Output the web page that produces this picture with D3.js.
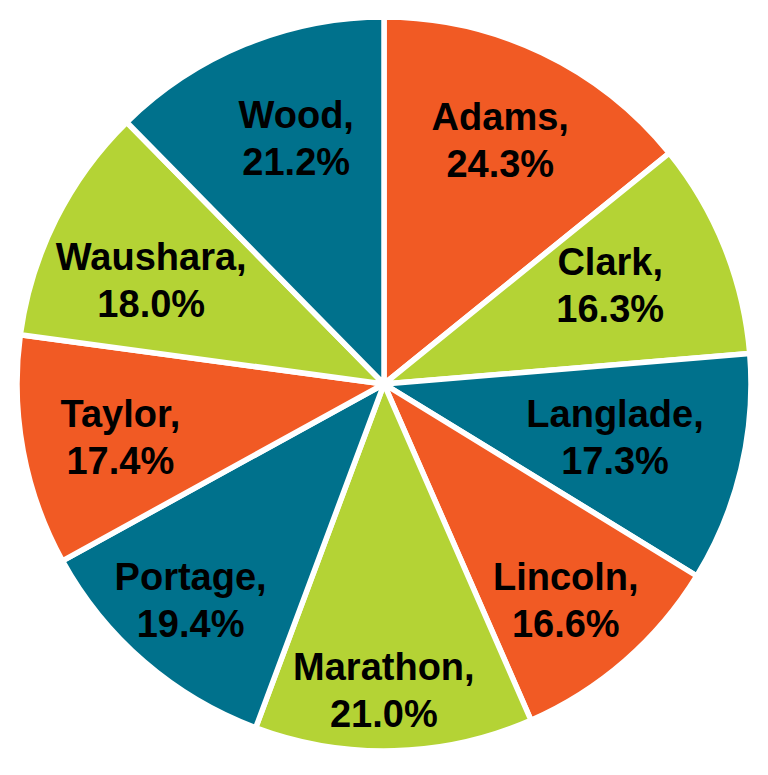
<!DOCTYPE html>
<html>
<head>
<meta charset="utf-8">
<script src="https://cdn.jsdelivr.net/npm/d3@7"></script>
<style>
  html, body { margin: 0; padding: 0; background: #fff; }
  svg { display: block; }
  text { font-family: "Liberation Sans", Arial, sans-serif; font-weight: bold; }
</style>
</head>
<body>
<svg id="chart" width="768" height="775"></svg>
<script>
// Data
const counties = ["Adams", "Clark", "Langlade", "Lincoln", "Marathon", "Portage", "Taylor", "Waushara", "Wood"];
const percents = [24.3, 16.3, 17.3, 16.6, 21.0, 19.4, 17.4, 18.0, 21.2];
const colorKeys = ["orange", "green", "teal", "orange", "green", "teal", "orange", "green", "teal"];

// Styling / layout config
const palette = { orange: "#F15A24", green: "#B4D335", teal: "#00718C" };
const labelRadius = [270, 247, 237, 282, 306, 290, 269, 255, 261];
const labelAngleNudgeDeg = [0, -1.8, -0.5, 0.9, 1.6, 1.0, -0.9, -2.5, 2.6];

const W = 768, H = 775;
const cx = 384, cy = 384, R = 367;
const fontSize = 38;
const lineGap = 47;
const firstBaseline = -10;

const svg = d3.select("#chart");
const g = svg.append("g").attr("transform", `translate(${cx},${cy})`);

const data = counties.map((c, i) => ({ name: c, value: percents[i], color: palette[colorKeys[i]], i }));

const pie = d3.pie().value(d => d.value).sort(null);
const arcs = pie(data);
const arc = d3.arc().innerRadius(0).outerRadius(R);

g.selectAll("path.slice")
  .data(arcs)
  .join("path")
  .attr("class", "slice")
  .attr("d", arc)
  .attr("fill", d => d.data.color)
  .attr("stroke", "#fff")
  .attr("stroke-width", 5.5)
  .attr("stroke-linejoin", "round");

const labels = g.selectAll("text.lbl")
  .data(arcs)
  .join("text")
  .attr("class", "lbl")
  .attr("text-anchor", "middle")
  .attr("font-size", fontSize)
  .attr("fill", "#000")
  .attr("transform", d => {
    const i = d.data.i;
    const a = (d.startAngle + d.endAngle) / 2 + labelAngleNudgeDeg[i] * Math.PI / 180;
    const r = labelRadius[i];
    return `translate(${r * Math.sin(a)},${-r * Math.cos(a)})`;
  });

labels.append("tspan")
  .attr("x", 0)
  .attr("y", firstBaseline)
  .text(d => d.data.name + ",");
labels.append("tspan")
  .attr("x", 0)
  .attr("y", firstBaseline + lineGap)
  .text(d => d.data.value.toFixed(1) + "%");
</script>
</body>
</html>
